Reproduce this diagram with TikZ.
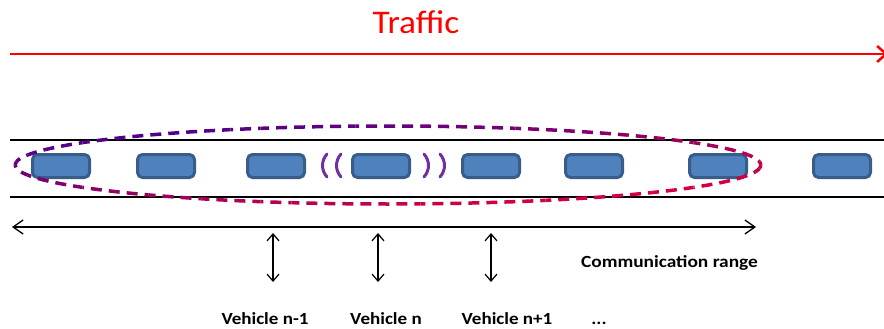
\documentclass[tikz,border=0pt]{standalone}
\usepackage{fontspec}
\setmainfont{Carlito}
\usetikzlibrary{arrows.meta}
\definecolor{carfill}{HTML}{4F81BD}
\definecolor{carline}{HTML}{385D8A}
\definecolor{sig}{HTML}{7030A0}
\definecolor{startc}{RGB}{55,0,150}
\definecolor{endc}{RGB}{240,0,50}
\definecolor{traffic}{HTML}{FF0000}
\newcommand{\wideby}[2]{\scalebox{#1}[1]{#2}}
\begin{document}
\begin{tikzpicture}[x=1pt,y=-1pt,
  car/.style={draw=carline, fill=carfill, line width=3pt, rounded corners=5pt,
    minimum width=57pt, minimum height=23pt, inner sep=0pt},
  road/.style={line width=2pt, black},
  signal/.style={draw=sig, line width=3pt, line cap=round},
  lbl/.style={font=\fontsize{17}{20}\selectfont\bfseries, inner sep=0pt, anchor=base},
  vtick/.style={line width=1.2pt, {Straight Barb[length=7pt,width=12pt]}-{Straight Barb[length=7pt,width=12pt]}},
  commrange/.style={line width=1.3pt, {Straight Barb[length=10pt,width=14pt]}-{Straight Barb[length=10pt,width=14pt]}},
  flow/.style={traffic, line width=2.5pt, -{Straight Barb[length=9pt,width=16pt]}},
]
\useasboundingbox (0,0) rectangle (884,329);

% traffic
\node[text=traffic, font=\fontsize{33}{36}\selectfont, inner sep=0pt] (traffic) at (416,22) {\wideby{1.07}{Traffic}};
\coordinate (fl) at (10,54);
\coordinate (fr) at (888,54);
\draw[flow] (fl) -- (fr);

% road
\coordinate (rtl) at (10,140); \coordinate (rtr) at (884,140);
\coordinate (rbl) at (10,197); \coordinate (rbr) at (884,197);
\draw[road] (rtl) -- (rtr);
\draw[road] (rbl) -- (rbr);

% cars
\foreach \n/\x in {1/61,2/166,3/276,4/381,5/491,6/594,7/718,8/842}{
  \node[car] (car\n) at (\x,166) {};
}

% signal arcs
\draw[signal] (327,154) .. controls (321,161) and (321,170) .. (327,177);
\draw[signal] (341,154) .. controls (335,161) and (335,170) .. (341,177);
\draw[signal] (424,154) .. controls (430,161) and (430,170) .. (424,177);
\draw[signal] (440,154) .. controls (446,161) and (446,170) .. (440,177);

% gradient dashed ellipse
\def\ecx{388}\def\ecy{165}\def\ea{373}\def\eb{39}
\gdef\cumL{0}
\foreach \i in {0,...,71}{
  \pgfmathsetmacro\ta{\i*5}
  \pgfmathsetmacro\tb{\i*5+5}
  \pgfmathsetmacro\tmid{\i*5+2.5}
  \pgfmathsetmacro\mixv{((1+cos(\tmid))/2 + (1+sin(\tmid))/2)/2*100}
  \pgfmathsetmacro\seglen{veclen(\ea*(cos(\tb)-cos(\ta)), \eb*(sin(\tb)-sin(\ta)))}
  \pgfmathsetmacro\sx{\ecx+\ea*cos(\ta)}
  \pgfmathsetmacro\sy{\ecy+\eb*sin(\ta)}
  \draw[line width=3.5pt, color=endc!\mixv!startc, dash pattern=on 11pt off 7pt, dash phase=\cumL pt]
    (\sx,\sy) arc[start angle=\ta, end angle=\tb, x radius=\ea, y radius=\eb];
  \pgfmathsetmacro\newL{mod(\cumL+\seglen,18)}
  \xdef\cumL{\newL}
}

% communication range
\coordinate (cl) at (12,227);
\coordinate (cr) at (756,227);
\draw[commrange] (cl) -- (cr);
\node[lbl] (crange) at (669.5,267) {\wideby{1.14}{Communication range}};

% vehicle pointers
\coordinate (a1t) at (273,233); \coordinate (a1b) at (273,282);
\coordinate (a2t) at (378,233); \coordinate (a2b) at (378,282);
\coordinate (a3t) at (491,233); \coordinate (a3b) at (491,282);
\draw[vtick] (a1t) -- (a1b);
\draw[vtick] (a2t) -- (a2b);
\draw[vtick] (a3t) -- (a3b);

\node[lbl] (vnm1) at (265,324) {\wideby{1.12}{Vehicle n-1}};
\node[lbl] (vn) at (386,324) {\wideby{1.12}{Vehicle n}};
\node[lbl] (vnp1) at (507,324) {\wideby{1.12}{Vehicle n+1}};
\node[lbl] (dots) at (599,324) {\wideby{1.12}{...}};
\end{tikzpicture}
\end{document}
